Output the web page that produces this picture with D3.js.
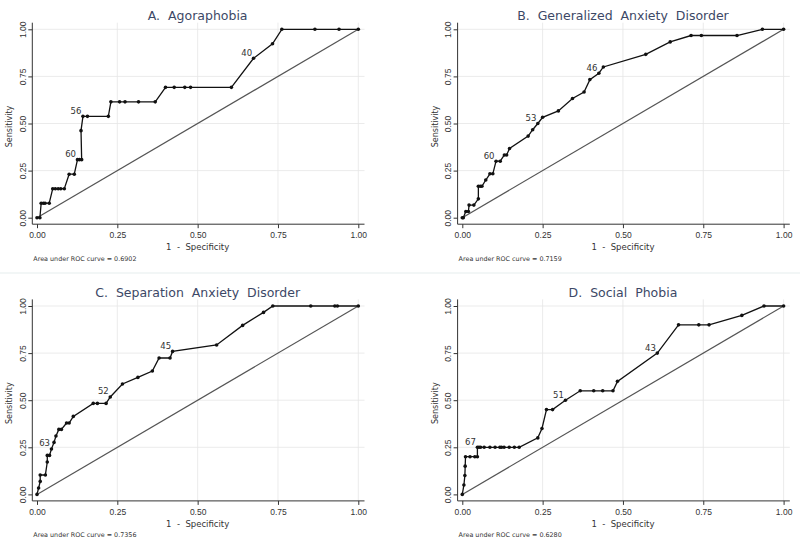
<!DOCTYPE html>
<html>
<head>
<meta charset="utf-8">
<script src="https://cdn.jsdelivr.net/npm/d3@7"></script>
<style>
  body { margin: 0; background: #fff; }
  svg { display: block; font-family: "DejaVu Sans", sans-serif; }
  svg text { white-space: pre; }
</style>
</head>
<body>
<div id="chart"></div>
<script>
// panel titles and area under curve
var titles = ["A.  Agoraphobia", "B.  Generalized  Anxiety  Disorder", "C.  Separation  Anxiety  Disorder", "D.  Social  Phobia"];
var aucValues = ["0.6902", "0.7159", "0.7356", "0.6280"];
var tickValues = [0, 0.25, 0.5, 0.75, 1];

// A. Agoraphobia
var agoraX = [0, 0.009, 0.013, 0.02, 0.025, 0.038, 0.049, 0.057, 0.066, 0.074, 0.085, 0.1, 0.116, 0.126, 0.132, 0.139, 0.137, 0.143, 0.157, 0.222, 0.23, 0.257, 0.274, 0.316, 0.368, 0.4, 0.427, 0.46, 0.478, 0.605, 0.674, 0.733, 0.762, 0.865, 0.94, 1];
var agoraY = [0, 0, 0.077, 0.077, 0.077, 0.077, 0.154, 0.154, 0.154, 0.154, 0.154, 0.231, 0.231, 0.308, 0.308, 0.308, 0.462, 0.538, 0.538, 0.538, 0.615, 0.615, 0.615, 0.615, 0.615, 0.692, 0.692, 0.692, 0.692, 0.692, 0.846, 0.923, 1, 1, 1, 1];
var agoraLabels = ["60", "56", "40"];
var agoraLabelIdx = [13, 17, 30];

// B. Generalized Anxiety Disorder
var gadX = [0, 0.003, 0.011, 0.019, 0.021, 0.036, 0.05, 0.05, 0.056, 0.061, 0.073, 0.086, 0.095, 0.105, 0.118, 0.131, 0.138, 0.147, 0.205, 0.219, 0.235, 0.25, 0.299, 0.343, 0.379, 0.397, 0.425, 0.439, 0.571, 0.647, 0.712, 0.744, 0.855, 0.934, 1];
var gadY = [0, 0, 0.033, 0.033, 0.067, 0.067, 0.1, 0.167, 0.167, 0.167, 0.2, 0.233, 0.233, 0.3, 0.3, 0.333, 0.333, 0.367, 0.433, 0.467, 0.5, 0.533, 0.567, 0.633, 0.667, 0.733, 0.767, 0.8, 0.867, 0.933, 0.967, 0.967, 0.967, 1, 1];
var gadLabels = ["60", "53", "46"];
var gadLabelIdx = [13, 20, 26];

// C. Separation Anxiety Disorder
var sadX = [0, 0.005, 0.01, 0.01, 0.026, 0.032, 0.032, 0.039, 0.045, 0.053, 0.059, 0.068, 0.076, 0.092, 0.1, 0.113, 0.175, 0.188, 0.215, 0.228, 0.266, 0.314, 0.359, 0.38, 0.414, 0.422, 0.559, 0.64, 0.705, 0.734, 0.852, 0.927, 0.935, 1];
var sadY = [0, 0.034, 0.069, 0.103, 0.103, 0.172, 0.207, 0.207, 0.241, 0.276, 0.31, 0.345, 0.345, 0.379, 0.379, 0.414, 0.483, 0.483, 0.483, 0.517, 0.586, 0.621, 0.655, 0.724, 0.724, 0.759, 0.793, 0.897, 0.966, 1, 1, 1, 1, 1];
var sadLabels = ["63", "52", "45"];
var sadLabelIdx = [8, 19, 25];

// D. Social Phobia
var socX = [0, 0.005, 0.008, 0.009, 0.01, 0.024, 0.039, 0.047, 0.047, 0.052, 0.057, 0.068, 0.086, 0.102, 0.117, 0.122, 0.13, 0.146, 0.162, 0.177, 0.235, 0.248, 0.262, 0.281, 0.321, 0.367, 0.409, 0.437, 0.469, 0.483, 0.607, 0.673, 0.736, 0.768, 0.87, 0.939, 1];
var socY = [0, 0.05, 0.1, 0.15, 0.2, 0.2, 0.2, 0.2, 0.25, 0.25, 0.25, 0.25, 0.25, 0.25, 0.25, 0.25, 0.25, 0.25, 0.25, 0.25, 0.3, 0.35, 0.45, 0.45, 0.5, 0.55, 0.55, 0.55, 0.55, 0.6, 0.75, 0.9, 0.9, 0.9, 0.95, 1, 1];
var socLabels = ["67", "51", "43"];
var socLabelIdx = [8, 24, 30];

var series = [
  { x: agoraX, y: agoraY, labels: agoraLabels, idx: agoraLabelIdx },
  { x: gadX, y: gadY, labels: gadLabels, idx: gadLabelIdx },
  { x: sadX, y: sadY, labels: sadLabels, idx: sadLabelIdx },
  { x: socX, y: socY, labels: socLabels, idx: socLabelIdx }
];

var width = 800, height = 544;
var pw = 321.3, ph = 188.4;
var lefts = [37, 462.3, 37, 462.3];
var tops = [29.3, 29.3, 306, 306];

var svg = d3.select("#chart").append("svg")
  .attr("width", width)
  .attr("height", height);

// faint separator between the two rows
svg.append("line")
  .attr("x1", 0).attr("x2", width)
  .attr("y1", 273).attr("y2", 273)
  .style("stroke", "#eef3f3")
  .style("stroke-width", 1.5);

series.forEach(function (s, i) {
  var g = svg.append("g").attr("transform", "translate(" + lefts[i] + "," + tops[i] + ")");

  var xscale = d3.scaleLinear().domain([0, 1]).range([0, pw]);
  var yscale = d3.scaleLinear().domain([0, 1]).range([ph, 0]);

  var axL = -4.7, axB = ph + 6.5, rightEdge = 327.5, topEdge = -6.6;

  // grid
  g.append("g").selectAll("line")
    .data(tickValues.slice(1))
    .join("line")
    .attr("x1", axL).attr("x2", rightEdge)
    .attr("y1", d => yscale(d)).attr("y2", d => yscale(d))
    .style("stroke", "#e6e6e6").style("stroke-width", 0.8);
  g.append("g").selectAll("line")
    .data(tickValues.slice(1))
    .join("line")
    .attr("x1", d => xscale(d)).attr("x2", d => xscale(d))
    .attr("y1", topEdge).attr("y2", axB)
    .style("stroke", "#e6e6e6").style("stroke-width", 0.8);

  // axes
  var xaxis = d3.axisBottom(xscale).tickValues(tickValues).tickFormat(d3.format(".2f")).tickSize(4).tickPadding(4).tickSizeOuter(0);
  var gx = g.append("g").attr("transform", "translate(0," + axB + ")").call(xaxis);
  gx.select(".domain").remove();
  gx.selectAll("line").style("stroke", "#333");
  gx.selectAll("text").style("font-size", "8.5px").style("fill", "#333");

  var yaxis = d3.axisLeft(yscale).tickValues(tickValues).tickFormat(d3.format(".2f")).tickSize(4).tickSizeOuter(0);
  var gy = g.append("g").attr("transform", "translate(" + axL + ",0)").call(yaxis);
  gy.select(".domain").remove();
  gy.selectAll("line").style("stroke", "#333");
  gy.selectAll("text")
    .attr("transform", "rotate(-90)")
    .attr("x", 0).attr("y", -6.5).attr("dy", 0)
    .style("text-anchor", "middle")
    .style("font-size", "8.5px").style("fill", "#333");

  g.append("line").attr("x1", axL).attr("x2", axL).attr("y1", topEdge).attr("y2", axB)
    .style("stroke", "#333").style("stroke-width", 1);
  g.append("line").attr("x1", axL).attr("x2", rightEdge).attr("y1", axB).attr("y2", axB)
    .style("stroke", "#333").style("stroke-width", 1);

  // diagonal reference
  g.append("line")
    .attr("x1", xscale(0)).attr("y1", yscale(0))
    .attr("x2", xscale(1)).attr("y2", yscale(1))
    .style("stroke", "#555").style("stroke-width", 1.2);

  // roc curve
  var pts = s.x.map((d, k) => [d, s.y[k]]);
  var line = d3.line().x(d => xscale(d[0])).y(d => yscale(d[1]));
  g.append("path").datum(pts).attr("d", line)
    .style("fill", "none").style("stroke", "#111").style("stroke-width", 1.3);
  g.append("g").selectAll("circle")
    .data(pts)
    .join("circle")
    .attr("cx", d => xscale(d[0]))
    .attr("cy", d => yscale(d[1]))
    .attr("r", 1.8)
    .style("fill", "#111");

  // cutoff labels
  g.append("g").selectAll("text")
    .data(s.labels)
    .join("text")
    .attr("x", (d, k) => xscale(s.x[s.idx[k]]) - 1.5)
    .attr("y", (d, k) => yscale(s.y[s.idx[k]]) - 2.5)
    .style("text-anchor", "end")
    .style("font-size", "8.5px")
    .style("fill", "#333")
    .text(d => d);

  // titles and axis labels
  g.append("text")
    .attr("x", pw / 2).attr("y", -9.5)
    .style("text-anchor", "middle")
    .style("font-size", "12.5px")
    .style("fill", "#3c4866")
    .text(titles[i]);

  g.append("text")
    .attr("x", pw / 2).attr("y", axB + 26)
    .style("text-anchor", "middle")
    .style("font-size", "8.5px")
    .style("fill", "#333")
    .text("1  -  Specificity");

  g.append("text")
    .attr("transform", "translate(" + (axL - 20) + "," + (ph / 2 + 3) + ") rotate(-90)")
    .style("text-anchor", "middle")
    .style("font-size", "8px")
    .style("fill", "#333")
    .text("Sensitivity");

  g.append("text")
    .attr("x", axL + 1).attr("y", axB + 36.5)
    .style("font-size", "6.4px")
    .style("fill", "#333")
    .text("Area under ROC curve = " + aucValues[i]);
});
</script>
</body>
</html>
